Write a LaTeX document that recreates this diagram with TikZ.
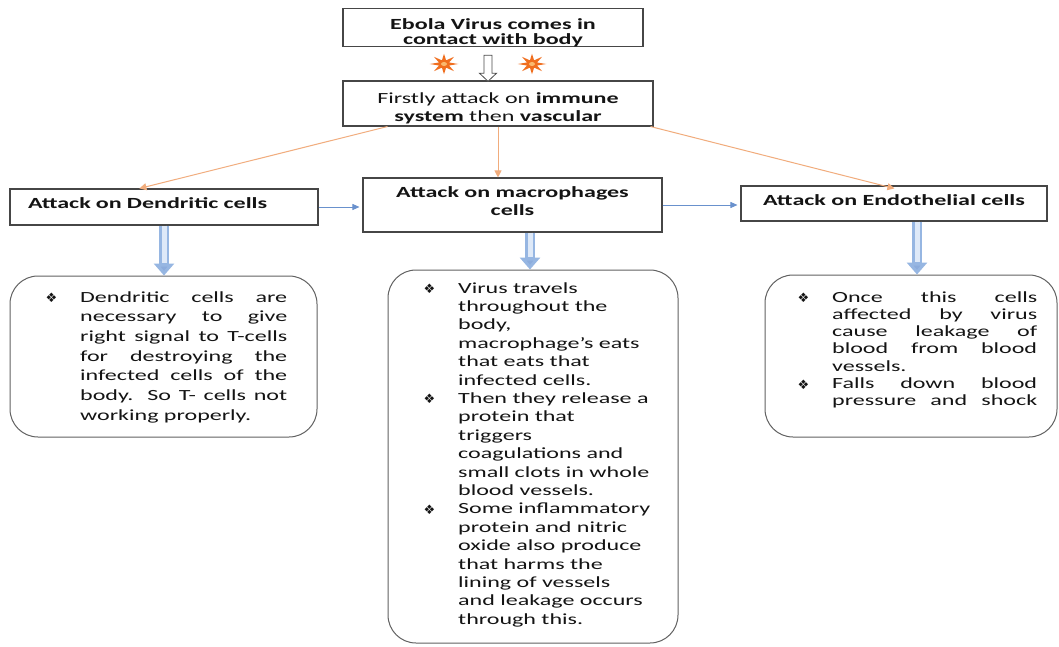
\documentclass[tikz,border=0pt]{standalone}
\usepackage{fontspec}
\setmainfont[FakeStretch=1.55]{Carlito}
\newfontfamily\symfont{DejaVu Sans}
\usetikzlibrary{shapes.geometric,arrows.meta,calc}
\definecolor{orangeline}{RGB}{241,172,124}
\definecolor{blueline}{RGB}{105,145,205}
\definecolor{starorange}{RGB}{240,110,30}
\definecolor{starcore}{RGB}{250,185,110}
\definecolor{textcol}{RGB}{20,20,20}
\definecolor{boxline}{RGB}{70,70,70}
\definecolor{shaftout}{RGB}{150,182,226}
\definecolor{shaftin}{RGB}{222,233,248}
\definecolor{headfill}{RGB}{140,172,220}
\newcommand{\bul}{{\symfont\fontsize{13}{13}\selectfont\raisebox{-0.5pt}{❖}}}
\newcommand{\jline}[1]{\makebox[\linewidth][s]{#1}}
\newcommand{\bulgap}[1]{\leavevmode\llap{\bul\hspace{#1}}}
\tikzset{
  sqbox/.style={draw=boxline, line width=1.1pt, fill=white, inner sep=0pt, align=center},
  rbox/.style={draw=boxline!85, line width=1pt, rounded corners=28pt, inner sep=0pt},
  orarrow/.style={draw=orangeline, line width=1pt, -{Triangle[length=7pt,width=7pt]}},
  bluearrow/.style={draw=blueline, line width=0.9pt, -{Triangle[length=7pt,width=6pt]}, shorten >=3pt},
  fatarrow/.style={draw=shaftout, line width=10pt, -{Triangle[length=12pt,width=20pt,fill=headfill]}},
  fatcore/.style={draw=shaftin, line width=5pt, shorten >=13pt},
  starnode/.style={star, star points=8, star point ratio=2.6, fill=starorange, minimum size=30pt, inner sep=0pt},
  content/.style={anchor=base west, inner sep=0pt}
}
\begin{document}
\begin{tikzpicture}[x=1pt,y=-1pt,font=\fontsize{15.5}{19}\selectfont,text=textcol]
\useasboundingbox (0,0) rectangle (1059,647);
\fill[white] (0,0) rectangle (1059,647);

% top boxes
\node[sqbox, minimum width=300, minimum height=35, font=\fontsize{15.5}{15}\selectfont] (b1) at (493,27.5)
  {\rule{0pt}{21pt}\textbf{Ebola Virus comes in}\\\textbf{contact with body}};
\node[sqbox, minimum width=310, minimum height=45, font=\fontsize{15.5}{18}\selectfont] (b2) at (498,103.5)
  {\rule{0pt}{19.5pt}Firstly attack on \textbf{immune}\\\textbf{system} then \textbf{vascular}};

% stars and hollow arrow
\node[starnode, xscale=0.95, yscale=0.68, transform shape] (s1) at (444,64) {};
\node[starnode, xscale=0.95, yscale=0.68, transform shape] (s2) at (532,64) {};
\fill[starcore] (s1.center) ellipse (3pt and 2pt);
\fill[starcore] (s2.center) ellipse (3pt and 2pt);
\draw[black!70, fill=white, line width=0.8pt]
  ($(b1.south)+(-9,8)$) -- ($(b1.south)+(-1,8)$) -- ($(b1.south)+(-1,26)$) -- ($(b1.south)+(3.5,26)$)
  -- ($(b1.south)+(-5,34)$) -- ($(b1.south)+(-13.5,26)$) -- ($(b1.south)+(-9,26)$) -- cycle;

% second row boxes
\node[sqbox, minimum width=308, minimum height=36, text width=272, inner xsep=18pt, align=left] (dend) at (164,207)
  {\textbf{Attack on Dendritic cells}\rule[-8pt]{0pt}{8pt}};
\node[sqbox, minimum width=299, minimum height=54, font=\fontsize{15.5}{18}\selectfont] (macro) at (512.5,205)
  {\textbf{Attack on macrophages}\\\textbf{cells}\rule[-7pt]{0pt}{7pt}};
\node[sqbox, minimum width=306, minimum height=35] (endo) at (894,203.5)
  {\textbf{Attack on Endothelial cells}\rule[-6pt]{0pt}{6pt}};

% rounded text boxes
\node[rbox, minimum width=307, minimum height=161] (dtext) at (163.5,356.5) {};
\node[rbox, minimum width=290, minimum height=373] (mtext) at (533,456.5) {};
\node[rbox, minimum width=292, minimum height=162] (etext) at (911,356) {};

% contents
\node[content] (dcont) at (80,302) {\parbox[t]{207pt}{\fontsize{15.5}{19.7}\selectfont
\jline{\bulgap{23pt}Dendritic cells are}\\
\jline{necessary to give}\\
\jline{right signal to T-cells}\\
\jline{for destroying the}\\
\jline{infected cells of the}\\
\jline{body. So T- cells not}\\
working properly.}};

\node[content] (mcont) at (458,293) {\parbox[t]{210pt}{\fontsize{15.5}{18.4}\selectfont
\bulgap{23pt}Virus travels\\
throughout the\\
body,\\
macrophage’s eats\\
that eats that\\
infected cells.\\
\bulgap{23pt}Then they release a\\
protein that\\
triggers\\
coagulations and\\
small clots in whole\\
blood vessels.\\
\bulgap{23pt}Some inflammatory\\
protein and nitric\\
oxide also produce\\
that harms the\\
lining of vessels\\
and leakage occurs\\
through this.}};

\node[content] (econt) at (832,302) {\parbox[t]{205pt}{\fontsize{15.5}{17.3}\selectfont
\jline{\bulgap{23pt}Once this cells}\\
\jline{affected by virus}\\
\jline{cause leakage of}\\
\jline{blood from blood}\\
vessels.\\
\jline{\bulgap{23pt}Falls down blood}\\
\jline{pressure and shock}}};

% orange connectors
\draw[orarrow] ([xshift=45pt]b2.south west) -- ([xshift=130pt]dend.north west);
\draw[orarrow] (b2.south) -- (b2.south |- macro.north);
\draw[orarrow] ([xshift=-3pt]b2.south east) -- ([xshift=154pt]dend.north west -| endo.north west);

% blue connectors
\draw[bluearrow] (dend.east) -- (dend.east -| macro.west);
\draw[bluearrow] (macro.east) -- (macro.east -| endo.west);

% fat arrows
\draw[fatarrow] (dend.south) -- (dend.south |- dtext.north);
\draw[fatcore] (dend.south) -- (dend.south |- dtext.north);
\coordinate (mstart) at ([xshift=17.5pt]macro.south);
\draw[fatarrow] (mstart) -- (mstart |- mtext.north);
\draw[fatcore] (mstart) -- (mstart |- mtext.north);
\coordinate (estart) at ([xshift=23pt]endo.south);
\draw[fatarrow] (estart) -- (estart |- etext.north);
\draw[fatcore] (estart) -- (estart |- etext.north);
\end{tikzpicture}
\end{document}
